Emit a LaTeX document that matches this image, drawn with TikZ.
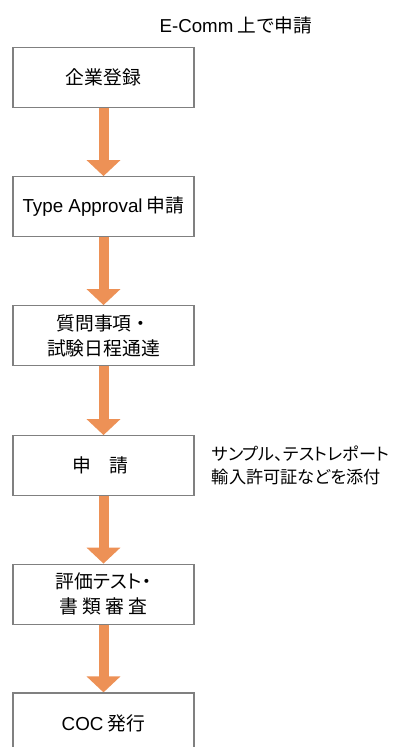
\documentclass[tikz,border=0pt]{standalone}
\usepackage{fontspec}
\setmainfont{Noto Sans CJK JP}
\newfontfamily\lat{Liberation Sans}
\newfontfamily\pj[RawFeature=+palt]{Noto Sans CJK JP}
\usetikzlibrary{arrows.meta,backgrounds}
\definecolor{arr}{RGB}{237,145,86}
\definecolor{bord}{RGB}{128,128,128}
\begin{document}
\begin{tikzpicture}[x=1pt,y=-1pt,
  box/.style={draw=bord, line width=1.2pt, fill=white, minimum width=181pt,
    minimum height=60pt, inner sep=0pt, align=center,
    font=\fontsize{18.8}{25}\selectfont},
  flow/.style={draw=arr, line width=10pt, -{Triangle[width=33pt,length=16pt]}},
  lbl/.style={inner sep=0pt, font=\fontsize{18.7}{23}\selectfont},
]
\useasboundingbox (0,0) rectangle (392,747);
\clip (0,0) rectangle (392,747);
\node[lbl] (top) at (236,25) {{\lat E-Comm} 上で申請};
\node[box] (b1) at (103.5,77.7) {企業登録};
\node[box] (b2) at (103.5,206.7) {{\lat Type Approval} 申請};
\node[box] (b3) at (103.5,335.7) {質問事項・\\試験日程通達};
\node[box] (b4) at (103.5,465.7) {申　請\hspace{6pt}};
\node[box] (b5) at (103.5,594.2) {{\pj 評価テスト・}\\書 類 審 査};
\node[box] (b6) at (103.5,723) {{\lat COC} 発行};
\node[lbl, anchor=west, align=left, font=\fontsize{17.2}{23}\selectfont\pj] (note) at (211.7,465.4)
  {サンプル、テストレポート\\輸入許可証などを添付};
\begin{scope}[on background layer]
\draw[flow] (b1.south) -- (b2.north);
\draw[flow] (b2.south) -- (b3.north);
\draw[flow] (b3.south) -- (b4.north);
\draw[flow] (b4.south) -- (b5.north);
\draw[flow] (b5.south) -- (b6.north);
\end{scope}
\end{tikzpicture}
\end{document}
